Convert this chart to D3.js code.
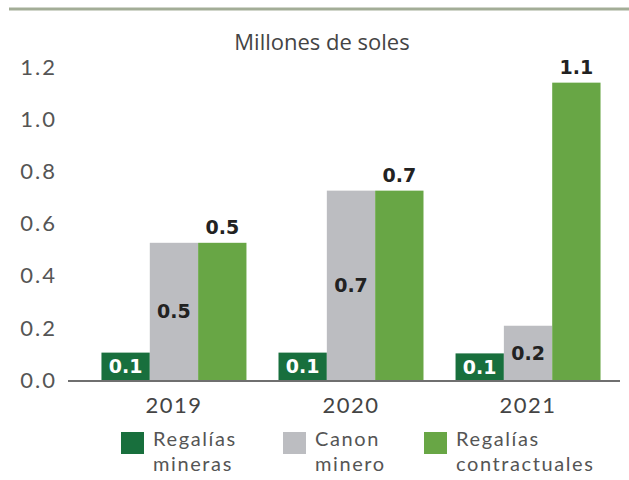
<!DOCTYPE html>
<html>
<head>
<meta charset="utf-8">
<script src="https://cdn.jsdelivr.net/npm/d3@7"></script>
<style>
  body { margin: 0; background: #fff; }
  svg { display: block; }
</style>
</head>
<body>
<div id="chart"></div>
<script>
const years = ["2019", "2020", "2021"];
const seriesNames = ["Regalías mineras", "Canon minero", "Regalías contractuales"];
const regaliasMineras = [0.105, 0.105, 0.102];
const canonMinero = [0.526, 0.726, 0.208];
const regaliasContractuales = [0.526, 0.726, 1.14];
const valueLabels = [["0.1", "0.5", "0.5"], ["0.1", "0.7", "0.7"], ["0.1", "0.2", "1.1"]];
const yTicks = [0, 0.2, 0.4, 0.6, 0.8, 1.0, 1.2];
const colors = ["#186f3d", "#bcbdc1", "#68a645"];

const width = 629, height = 480;
const svg = d3.select("#chart").append("svg")
  .attr("width", width)
  .attr("height", height);

// top rule
svg.append("line")
  .attr("x1", 9).attr("x2", width)
  .attr("y1", 9).attr("y2", 9)
  .attr("stroke", "#a3ad97")
  .attr("stroke-width", 3);

svg.append("text")
  .attr("x", 322).attr("y", 50)
  .attr("text-anchor", "middle")
  .attr("font-family", "Open Sans, sans-serif")
  .attr("font-size", 22)
  .attr("fill", "#444")
  .text("Millones de soles");

const x0 = d3.scaleBand().domain(years).range([85, 617]).paddingInner(0.181).paddingOuter(0.093);
const x1 = d3.scaleBand().domain(d3.range(3)).range([0, x0.bandwidth()]);
const y = d3.scaleLinear().domain([0, 1.2]).range([380, 67]);

const data = years.map((yr, i) => ({
  year: yr,
  values: [regaliasMineras[i], canonMinero[i], regaliasContractuales[i]],
  labels: valueLabels[i]
}));

// y axis labels
svg.append("g")
  .selectAll("text")
  .data(yTicks)
  .enter().append("text")
  .attr("x", 57)
  .attr("y", d => y(d))
  .attr("dy", "0.35em")
  .attr("text-anchor", "end")
  .attr("font-family", "Lato, sans-serif")
  .attr("font-size", 22)
  .attr("letter-spacing", 2)
  .attr("fill", "#555")
  .text(d => d.toFixed(1));

const groups = svg.selectAll(".grp")
  .data(data)
  .enter().append("g")
  .attr("class", "grp")
  .attr("transform", d => `translate(${x0(d.year)},0)`);

groups.selectAll("rect")
  .data(d => d.values.map((v, k) => ({ k, v, label: d.labels[k] })))
  .enter().append("rect")
  .attr("x", d => x1(d.k))
  .attr("width", x1.bandwidth())
  .attr("y", d => y(d.v))
  .attr("height", d => y(0) - y(d.v))
  .attr("fill", d => colors[d.k]);

groups.selectAll("text.val")
  .data(d => d.values.map((v, k) => ({ k, v, label: d.labels[k] })))
  .enter().append("text")
  .attr("class", "val")
  .attr("x", d => x1(d.k) + x1.bandwidth() / 2)
  .attr("y", d => d.k === 2 ? y(d.v) - 9 : (y(d.v) + y(0)) / 2)
  .attr("dy", d => d.k === 2 ? 0 : "0.36em")
  .attr("text-anchor", "middle")
  .attr("font-family", "DejaVu Sans, sans-serif")
  .attr("font-weight", 700)
  .attr("font-size", 19)
  .attr("fill", d => d.k === 0 ? "#fff" : "#222")
  .text(d => d.label);

// baseline
svg.append("line")
  .attr("x1", 68).attr("x2", 620)
  .attr("y1", y(0) + 1).attr("y2", y(0) + 1)
  .attr("stroke", "#6f6f6f")
  .attr("stroke-width", 2);

// x axis labels
svg.append("g")
  .selectAll("text")
  .data(years)
  .enter().append("text")
  .attr("x", d => x0(d) + x0.bandwidth() / 2)
  .attr("y", 413)
  .attr("text-anchor", "middle")
  .attr("font-family", "Lato, sans-serif")
  .attr("font-size", 22)
  .attr("letter-spacing", 1.5)
  .attr("fill", "#444")
  .text(d => d);

// legend
const legendX = [121, 283, 424];
const legendLines = [["Regalías", "mineras"], ["Canon", "minero"], ["Regalías", "contractuales"]];
const legend = svg.selectAll(".leg")
  .data(seriesNames)
  .enter().append("g")
  .attr("class", "leg")
  .attr("transform", (d, i) => `translate(${legendX[i]},432)`);

legend.append("rect")
  .attr("width", 23).attr("height", 22)
  .attr("fill", (d, i) => colors[i]);

legend.each(function(d, i) {
  const t = d3.select(this).append("text")
    .attr("font-family", "Lato, sans-serif")
    .attr("font-size", 20)
    .attr("letter-spacing", 1.6)
    .attr("fill", "#555");
  legendLines[i].forEach((ln, j) => {
    t.append("tspan").attr("x", 32).attr("y", 14 + j * 25).text(ln);
  });
});
</script>
</body>
</html>
